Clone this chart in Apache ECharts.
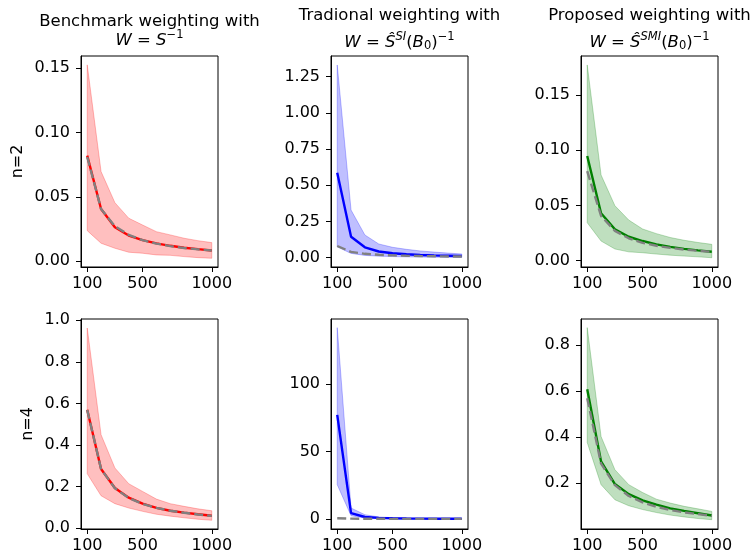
<!DOCTYPE html>
<html><head><meta charset="utf-8">
<script src="https://cdn.jsdelivr.net/npm/echarts@6/dist/echarts.min.js"></script>
<style>html,body{margin:0;padding:0;background:#fff}#c{width:754px;height:560px}</style>
</head><body><div id="c"></div>
<script>
// ---- data ----
const sampleSizes = [100, 200, 300, 400, 500, 600, 700, 800, 900, 1000];
const xTicks = [100, 500, 1000];

const trueN2 = [0.081, 0.0405, 0.027, 0.0203, 0.0162, 0.0135, 0.0116, 0.0101, 0.009, 0.0081];
const trueN4 = [0.568, 0.284, 0.191, 0.144, 0.116, 0.097, 0.083, 0.073, 0.065, 0.058];

const benchN2Mean  = [0.082, 0.0405, 0.0262, 0.0198, 0.0162, 0.0137, 0.0118, 0.0103, 0.0092, 0.0082];
const benchN2Lower = [0.0236, 0.0138, 0.0099, 0.0068, 0.006, 0.0047, 0.0044, 0.0034, 0.0026, 0.0021];
const benchN2Upper = [0.1527, 0.0696, 0.0454, 0.0333, 0.028, 0.0228, 0.0203, 0.0177, 0.0158, 0.0143];

const tradN2Mean  = [0.587, 0.145, 0.072, 0.043, 0.031, 0.024, 0.019, 0.016, 0.014, 0.012];
const tradN2Lower = [0.075, 0.030, 0.016, 0.011, 0.008, 0.006, 0.005, 0.004, 0.0035, 0.003];
const tradN2Upper = [1.331, 0.329, 0.157, 0.095, 0.072, 0.058, 0.047, 0.039, 0.032, 0.026];

const propN2Mean  = [0.0948, 0.0429, 0.0284, 0.0217, 0.0178, 0.0148, 0.0125, 0.0107, 0.0093, 0.0081];
const propN2Lower = [0.0344, 0.0178, 0.0106, 0.008, 0.0072, 0.006, 0.005, 0.0042, 0.0035, 0.0027];
const propN2Upper = [0.1772, 0.0776, 0.0498, 0.0368, 0.0287, 0.0245, 0.021, 0.0185, 0.0165, 0.0148];

const benchN4Mean  = [0.5696, 0.284, 0.1926, 0.146, 0.117, 0.097, 0.083, 0.074, 0.066, 0.059];
const benchN4Lower = [0.261, 0.155, 0.117, 0.096, 0.080, 0.066, 0.057, 0.049, 0.042, 0.037];
const benchN4Upper = [0.963, 0.449, 0.289, 0.213, 0.176, 0.139, 0.117, 0.104, 0.092, 0.083];

const tradN4Mean  = [77.1, 4.4, 1.5, 0.8, 0.5, 0.35, 0.28, 0.22, 0.18, 0.15];
const tradN4Lower = [25.4, 2.4, 0.7, 0.35, 0.25, 0.18, 0.14, 0.11, 0.09, 0.07];
const tradN4Upper = [141.6, 8.1, 3.2, 1.5, 1.0, 0.7, 0.55, 0.45, 0.38, 0.32];

const propN4Mean  = [0.6075, 0.294, 0.1955, 0.152, 0.125, 0.106, 0.090, 0.079, 0.069, 0.059];
const propN4Lower = [0.376, 0.193, 0.1275, 0.1015, 0.085, 0.072, 0.061, 0.053, 0.046, 0.041];
const propN4Upper = [0.875, 0.402, 0.258, 0.193, 0.159, 0.130, 0.113, 0.099, 0.088, 0.077];

const yTicksBenchN2 = [0, 0.05, 0.10, 0.15];
const yTicksTradN2  = [0, 0.25, 0.5, 0.75, 1.0, 1.25];
const yTicksPropN2  = [0, 0.05, 0.10, 0.15];
const yTicksBenchN4 = [0, 0.2, 0.4, 0.6, 0.8, 1.0];
const yTicksTradN4  = [0, 50, 100];
const yTicksPropN4  = [0.2, 0.4, 0.6, 0.8];

const rowLabels = ['n=2', 'n=4'];
const titleLine1 = ['Benchmark weighting with', 'Tradional weighting with', 'Proposed weighting with'];
const titleLine2 = [
  '{i|W}{n| = }{i|S}{sup|−1}',
  '{i|W}{n| = }{i|Ŝ}{supi|SI}{n|(}{i|B}{sub|0}{n|)}{sup|−1}',
  '{i|W}{n| = }{i|Ŝ}{supi|SMI}{n|(}{i|B}{sub|0}{n|)}{sup|−1}'
];

// ---- layout / style ----
const FONT = 'DejaVu Sans';
const colLeft = [81, 331, 581];
const rowTop = [56, 319];
const rowH = [211, 210];
const W = 137;

const panels = [
  {mean: benchN2Mean, lo: benchN2Lower, hi: benchN2Upper, tr: trueN2, color: '#ff0000', fill: 'rgba(255,0,0,0.25)', ymin: -0.0047, ymax: 0.1596, ticks: yTicksBenchN2, dec: 2},
  {mean: tradN2Mean,  lo: tradN2Lower,  hi: tradN2Upper,  tr: trueN2, color: '#0000ff', fill: 'rgba(0,0,255,0.25)', ymin: -0.064, ymax: 1.393, ticks: yTicksTradN2, dec: 2},
  {mean: propN2Mean,  lo: propN2Lower,  hi: propN2Upper,  tr: trueN2, color: '#008000', fill: 'rgba(0,128,0,0.25)', ymin: -0.0057, ymax: 0.1853, ticks: yTicksPropN2, dec: 2},
  {mean: benchN4Mean, lo: benchN4Lower, hi: benchN4Upper, tr: trueN4, color: '#ff0000', fill: 'rgba(255,0,0,0.25)', ymin: -0.005, ymax: 1.0063, ticks: yTicksBenchN4, dec: 1},
  {mean: tradN4Mean,  lo: tradN4Lower,  hi: tradN4Upper,  tr: trueN4, color: '#0000ff', fill: 'rgba(0,0,255,0.25)', ymin: -7.4, ymax: 148, ticks: yTicksTradN4, dec: 0},
  {mean: propN4Mean,  lo: propN4Lower,  hi: propN4Upper,  tr: trueN4, color: '#008000', fill: 'rgba(0,128,0,0.25)', ymin: 0.0005, ymax: 0.9124, ticks: yTicksPropN4, dec: 1}
];

const grid = [], xAxis = [], yAxis = [], series = [];
panels.forEach((p, k) => {
  const r = Math.floor(k / 3), c = k % 3;
  grid.push({left: colLeft[c], top: rowTop[r], width: W, height: rowH[r], show: true, borderColor: '#000', borderWidth: 1, backgroundColor: 'transparent'});
  xAxis.push({
    type: 'value', gridIndex: k, min: 55, max: 1045,
    axisLine: {show: true, onZero: false, lineStyle: {color: '#000', width: 1}},
    axisTick: {show: true, customValues: xTicks, length: 5, lineStyle: {color: '#000', width: 1}},
    axisLabel: {show: true, customValues: xTicks, color: '#000', fontSize: 16, fontFamily: FONT, margin: 9,
      formatter: (v) => String(Math.round(v))},
    splitLine: {show: false}
  });
  const y = {
    type: 'value', gridIndex: k, min: p.ymin, max: p.ymax,
    axisLine: {show: true, onZero: false, lineStyle: {color: '#000', width: 1}},
    axisTick: {show: true, customValues: p.ticks, length: 5, lineStyle: {color: '#000', width: 1}},
    axisLabel: {show: true, customValues: p.ticks, color: '#000', fontSize: 16, fontFamily: FONT, margin: 11,
      formatter: (v) => Number(v).toFixed(p.dec)},
    splitLine: {show: false}
  };
  if (c === 0) {
    y.name = rowLabels[r];
    y.nameLocation = 'middle';
    y.nameGap = r === 0 ? 55 : 45;
    y.nameTextStyle = {color: '#000', fontSize: 16, fontFamily: FONT};
  }
  yAxis.push(y);

  const band = sampleSizes.map((x, j) => [x, p.lo[j], p.hi[j]]);
  series.push({
    type: 'custom', xAxisIndex: k, yAxisIndex: k, silent: true, z: 1,
    data: band, encode: {x: 0, y: [1, 2]},
    renderItem: (params, api) => {
      if (params.dataIndex !== 0) return null;
      const pts = [];
      band.forEach(d => pts.push(api.coord([d[0], d[2]])));
      for (let j = band.length - 1; j >= 0; j--) pts.push(api.coord([band[j][0], band[j][1]]));
      return {type: 'polygon', shape: {points: pts}, style: {fill: p.fill, stroke: p.fill, lineWidth: 1}};
    }
  });
  series.push({
    type: 'line', xAxisIndex: k, yAxisIndex: k, symbol: 'none', silent: true, z: 3,
    data: sampleSizes.map((x, j) => [x, p.mean[j]]),
    lineStyle: {color: p.color, width: 2.4}
  });
  series.push({
    type: 'line', xAxisIndex: k, yAxisIndex: k, symbol: 'none', silent: true, z: 4,
    data: sampleSizes.map((x, j) => [x, p.tr[j]]),
    lineStyle: {color: '#808080', width: 2.4, type: [9, 4]}
  });
});

const rich = {
  i: {fontFamily: FONT, fontStyle: 'italic', fontSize: 16.5, lineHeight: 24, verticalAlign: 'middle', color: '#000'},
  n: {fontFamily: FONT, fontSize: 16.5, lineHeight: 24, verticalAlign: 'middle', color: '#000'},
  sup: {fontFamily: FONT, fontSize: 11.5, lineHeight: 12, verticalAlign: 'top', color: '#000'},
  supi: {fontFamily: FONT, fontStyle: 'italic', fontSize: 11.5, lineHeight: 12, verticalAlign: 'top', color: '#000'},
  sub: {fontFamily: FONT, fontSize: 11.5, lineHeight: 12, verticalAlign: 'bottom', padding: [0, 0, 3, 0], color: '#000'}
};
const graphic = [];
const titleY1 = [22, 16, 16];
const titleY2 = [41, 43, 43];
for (let c = 0; c < 3; c++) {
  const cx = colLeft[c] + W / 2;
  graphic.push({type: 'text', x: cx, y: titleY1[c], style: {text: titleLine1[c], font: '16.5px "DejaVu Sans"', fill: '#000', align: 'center', verticalAlign: 'middle'}});
  graphic.push({type: 'text', x: cx, y: titleY2[c], style: {text: titleLine2[c], rich: rich, fill: '#000', align: 'center', verticalAlign: 'middle'}});
}

const chart = echarts.init(document.getElementById('c'), null, {renderer: 'canvas'});
chart.setOption({animation: false, backgroundColor: '#fff', grid, xAxis, yAxis, series, graphic});
</script></body></html>
